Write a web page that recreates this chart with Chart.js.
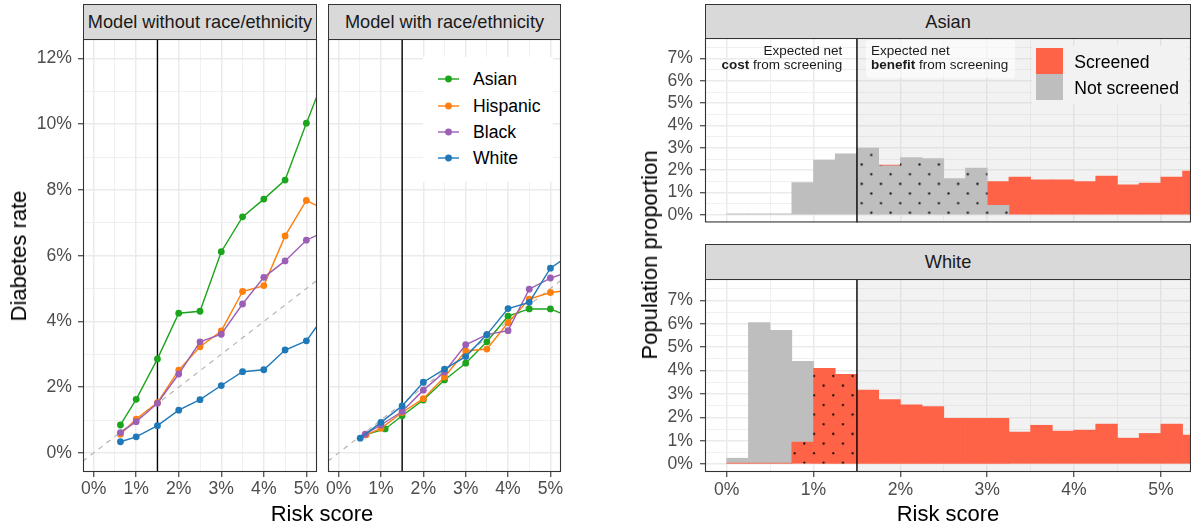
<!DOCTYPE html>
<html>
<head>
<meta charset="utf-8">
<title>Diabetes rate and population proportion by risk score</title>
<script src="https://cdn.jsdelivr.net/npm/chart.js@4.4.1/dist/chart.umd.min.js"></script>
<style>
  html, body { margin:0; padding:0; background:#fff; }
  body { position:relative; width:1191px; height:529px; overflow:hidden; font-family:"Liberation Sans", Arial, Helvetica, sans-serif; }
  canvas { position:absolute; }
  .strip { position:absolute; box-sizing:border-box; background:#d9d9d9; border:1px solid #333; color:#1a1a1a; font-size:18.2px; line-height:20px; display:flex; align-items:center; justify-content:center; white-space:nowrap; }
  .axtitle { position:absolute; font-size:22px; line-height:22px; color:#000; white-space:nowrap; }
  .note { position:absolute; font-size:13.5px; line-height:14.3px; color:#1a1a1a; white-space:nowrap; }
  .legtxt { position:absolute; font-size:17.6px; line-height:20px; color:#000; white-space:nowrap; }
</style>
</head>
<body>
<canvas id="c1" width="322" height="529" style="left:0;top:0"></canvas>
<canvas id="c2" width="244" height="529" style="left:322px;top:0"></canvas>
<canvas id="c3" width="551" height="240" style="left:640px;top:0"></canvas>
<canvas id="c4" width="551" height="289" style="left:640px;top:240px"></canvas>

<div class="strip" style="left:83px;top:4px;width:234px;height:36px">Model without race/ethnicity</div>
<div class="strip" style="left:328px;top:4px;width:233px;height:36px">Model with race/ethnicity</div>
<div class="strip" style="left:705px;top:4px;width:486px;height:35px">Asian</div>
<div class="strip" style="left:705px;top:244px;width:486px;height:36px">White</div>

<div class="axtitle" style="left:322px;top:503px;transform:translateX(-50%)">Risk score</div>
<div class="axtitle" style="left:948px;top:503px;transform:translateX(-50%)">Risk score</div>
<div class="axtitle" style="left:18.6px;top:255.5px;transform:translate(-50%,-50%) rotate(-90deg)">Diabetes rate</div>
<div class="axtitle" style="left:650px;top:255px;transform:translate(-50%,-50%) rotate(-90deg)">Population proportion</div>

<div class="note" style="left:842.3px;top:43.5px;transform:translateX(-100%);text-align:right">Expected net<br><b>cost</b> from screening</div>
<div style="position:absolute;left:866px;top:40px;width:149px;height:38px;background:rgba(255,255,255,0.6);border-radius:3px"></div>
<div class="note" style="left:871px;top:43.5px">Expected net<br><b>benefit</b> from screening</div>

<div id="leg1" style="position:absolute;left:423px;top:57px;width:130px;height:125px;background:#fff"></div>
<div id="leg2" style="position:absolute;left:1032px;top:46px;width:156px;height:58px;background:#f2f2f2"></div>

<script>
// ================= DATA =================
const threshold = 1.5;                       // risk score screening threshold (%)
const seriesNames  = ['Asian', 'Hispanic', 'Black', 'White'];
const seriesColors = ['#1ca51c', '#ff7f0e', '#9b5fb5', '#1f78b8'];

// Panel: Model without race/ethnicity  (x = risk score %, y = diabetes rate %)
const noRaceRisk     = [0.63, 1.0, 1.5, 2.0, 2.5, 3.0, 3.5, 4.0, 4.5, 5.0, 5.5];
const noRaceAsian    = [0.85, 1.63, 2.86, 4.25, 4.31, 6.12, 7.18, 7.72, 8.30, 10.03, 11.67];
const noRaceHispanic = [0.57, 1.03, 1.53, 2.52, 3.23, 3.71, 4.91, 5.09, 6.60, 7.68, 7.36];
const noRaceBlack    = [0.62, 0.95, 1.51, 2.40, 3.38, 3.61, 4.53, 5.34, 5.84, 6.47, 6.77];
const noRaceWhite    = [0.34, 0.49, 0.83, 1.30, 1.62, 2.05, 2.47, 2.53, 3.13, 3.41, 4.31];

// Panel: Model with race/ethnicity
const withRaceRiskAsian    = [0.63, 1.1, 1.5, 2.0, 2.5, 3.0, 3.5, 4.0, 4.5, 5.0, 5.5];
const withRaceAsian        = [0.55, 0.73, 1.13, 1.61, 2.22, 2.73, 3.38, 4.16, 4.38, 4.38, 4.12];
const withRaceRiskHispanic = [0.65, 1.0, 1.5, 2.0, 2.5, 3.0, 3.5, 4.0, 4.5, 5.0, 5.5];
const withRaceHispanic     = [0.55, 0.75, 1.23, 1.65, 2.31, 3.10, 3.16, 3.96, 4.68, 4.88, 4.96];
const withRaceRiskBlack    = [0.63, 1.0, 1.5, 2.0, 2.5, 3.0, 3.5, 4.0, 4.5, 5.0, 5.5];
const withRaceBlack        = [0.57, 0.85, 1.26, 1.91, 2.46, 3.29, 3.60, 3.72, 4.98, 5.32, 5.54];
const withRaceRiskWhite    = [0.51, 1.0, 1.5, 2.0, 2.5, 3.0, 3.5, 4.0, 4.5, 5.0, 5.5];
const withRaceWhite        = [0.45, 0.93, 1.43, 2.15, 2.55, 2.93, 3.60, 4.39, 4.58, 5.62, 6.06];

// Perfect-calibration reference (diabetes rate = risk score)
const calibrationLine = [-1, 7];

// Histograms: risk score bins (centers, width 0.25%) and population proportion (%)
const binCenters = [0.125, 0.375, 0.625, 0.875, 1.125, 1.375, 1.625, 1.875, 2.125, 2.375, 2.625,
                    2.875, 3.125, 3.375, 3.625, 3.875, 4.125, 4.375, 4.625, 4.875, 5.125, 5.375];
const asianScreened    = [0, 0, 0, 0, 0, 0, 0, 0.04, 0, 0, 0, 0, 1.06, 1.69, 1.57, 1.57, 1.49, 1.74, 1.34, 1.42, 1.69, 1.96];
const asianNotScreened = [0.04, 0.04, 0.04, 1.45, 2.45, 2.73, 2.99, 2.19, 2.56, 2.52, 1.62, 2.09, 0.43, 0, 0, 0, 0, 0, 0, 0, 0, 0];
const whiteScreened    = [0.04, 0.04, 0.04, 0.94, 4.10, 3.84, 3.17, 2.76, 2.53, 2.46, 1.96, 1.96, 1.96, 1.37, 1.66, 1.41, 1.45, 1.71, 1.11, 1.31, 1.71, 1.24];
const whiteNotScreened = [0.21, 6.02, 5.68, 3.46, 0, 0, 0, 0, 0, 0, 0, 0, 0, 0, 0, 0, 0, 0, 0, 0, 0, 0];
const histLegendLabels = ['Screened', 'Not screened'];
const SCREENED_COLOR = '#ff6347', NOT_SCREENED_COLOR = '#bebebe';

// Tick values and labels
const rateTicksMajor = [0, 2, 4, 6, 8, 10, 12];
const rateTickLabels = ['0%', '2%', '4%', '6%', '8%', '10%', '12%'];
const rateTicksMinor = [1, 3, 5, 7, 9, 11];
const riskTicksMajor = [0, 1, 2, 3, 4, 5];
const riskTickLabels = ['0%', '1%', '2%', '3%', '4%', '5%'];
const riskTicksMinor = [0.5, 1.5, 2.5, 3.5, 4.5];
const propTicksMajor = [0, 1, 2, 3, 4, 5, 6, 7];
const propTickLabels = ['0%', '1%', '2%', '3%', '4%', '5%', '6%', '7%'];
const propTicksMinor = [0.5, 1.5, 2.5, 3.5, 4.5, 5.5, 6.5, 7.5];

// ================= HELPERS =================
const FONT = '"Liberation Sans", Arial, Helvetica, sans-serif';

function axis(o) {
  const all = o.major.concat(o.minor).sort((a, b) => a - b);
  const isMajor = c => c && c.tick && o.major.includes(c.tick.value);
  return {
    type: 'linear', min: o.min, max: o.max, position: o.position, offset: false,
    afterBuildTicks: s => { s.ticks = all.map(v => ({ value: v })); },
    afterFit: s => { if (o.position === 'left') s.width = o.size; else s.height = o.size; },
    border: { display: false },
    grid: {
      offset: false, color: '#ebebeb',
      lineWidth: c => isMajor(c) ? 1.5 : 0.75,
      drawTicks: o.drawTicks, tickLength: 5, tickWidth: 1.1,
      tickColor: c => isMajor(c) ? '#333333' : 'rgba(0,0,0,0)'
    },
    ticks: {
      display: o.showLabels, autoSkip: false, maxRotation: 0, minRotation: 0,
      padding: o.pad, color: '#4d4d4d', font: { family: FONT, size: 17.6 },
      callback: v => { const i = o.major.indexOf(v); return i >= 0 ? o.labels[i] : ''; }
    }
  };
}

function drawThreshold(chart) {
  const { ctx, chartArea: a, scales: { x } } = chart;
  const px = x.getPixelForValue(threshold);
  ctx.save();
  ctx.strokeStyle = '#000'; ctx.lineWidth = 1.4;
  ctx.beginPath(); ctx.moveTo(px, a.top); ctx.lineTo(px, a.bottom); ctx.stroke();
  ctx.restore();
}

const deco = {
  id: 'deco',
  beforeDatasetsDraw(chart, args, o) {
    const { ctx, chartArea: a, scales: { x } } = chart;
    if (o.shade) {
      const px = x.getPixelForValue(threshold);
      ctx.save();
      ctx.fillStyle = 'rgba(190,190,190,0.2)';
      ctx.fillRect(px, a.top, a.right - px, a.bottom - a.top);
      ctx.restore();
    }
    if (o.lineUnder) drawThreshold(chart);
  },
  afterDatasetsDraw(chart, args, o) {
    if (o.lineOver) drawThreshold(chart);
  },
  afterDraw(chart) {
    const { ctx, chartArea: a } = chart;
    ctx.save();
    ctx.strokeStyle = '#333'; ctx.lineWidth = 1.1;
    ctx.strokeRect(a.left + 0.5, a.top + 0.5, a.right - a.left - 1, a.bottom - a.top - 1);
    ctx.restore();
  }
};

function lineDataset(i, xs, ys) {
  const col = seriesColors[i];
  return {
    label: seriesNames[i], data: xs.map((x, k) => ({ x, y: ys[k] })),
    borderColor: col, backgroundColor: col, borderWidth: 1.4,
    pointRadius: 3.4, pointHoverRadius: 3.4, pointBorderWidth: 0, pointBackgroundColor: col,
    tension: 0, order: 3 - i
  };
}
function refDataset() {
  return {
    label: 'calibration', data: calibrationLine.map(v => ({ x: v, y: v })),
    borderColor: '#b0b0b0', borderWidth: 1.1, borderDash: [5, 5],
    pointRadius: 0, pointHoverRadius: 0, order: 10
  };
}

function lineChart(id, datasets, layoutPad, yWidth, yLabels) {
  return new Chart(document.getElementById(id), {
    type: 'line',
    data: { datasets: [refDataset()].concat(datasets) },
    options: {
      responsive: false, maintainAspectRatio: false, animation: false, devicePixelRatio: 1,
      layout: { padding: layoutPad },
      events: [],
      plugins: { legend: { display: false }, tooltip: { enabled: false }, deco: { lineUnder: true } },
      scales: {
        x: axis({ min: -0.25, max: 5.25, major: riskTicksMajor, minor: riskTicksMinor, labels: riskTickLabels,
                  position: 'bottom', size: 30, pad: 2, showLabels: true, drawTicks: true }),
        y: axis({ min: -0.58, max: 12.59, major: rateTicksMajor, minor: rateTicksMinor, labels: rateTickLabels,
                  position: 'left', size: yWidth, pad: 6, showLabels: yLabels, drawTicks: yLabels })
      }
    },
    plugins: [deco]
  });
}

// Model without race/ethnicity
lineChart('c1', [
  lineDataset(0, noRaceRisk, noRaceAsian),
  lineDataset(1, noRaceRisk, noRaceHispanic),
  lineDataset(2, noRaceRisk, noRaceBlack),
  lineDataset(3, noRaceRisk, noRaceWhite)
], { left: 0, top: 39, right: 5, bottom: 27 }, 83, true);

// Model with race/ethnicity
lineChart('c2', [
  lineDataset(0, withRaceRiskAsian, withRaceAsian),
  lineDataset(1, withRaceRiskHispanic, withRaceHispanic),
  lineDataset(2, withRaceRiskBlack, withRaceBlack),
  lineDataset(3, withRaceRiskWhite, withRaceWhite)
], { left: 6, top: 39, right: 5, bottom: 27 }, 0, false);

// Dotted fill patterns
function dotPattern(base, tx, ty) {
  const P = 19.3, N = 10, S = 193;
  const c = document.createElement('canvas'); c.width = S; c.height = S;
  const g = c.getContext('2d');
  g.fillStyle = base; g.fillRect(0, 0, S, S);
  g.fillStyle = '#000';
  for (let i = 0; i < N; i++) for (let j = 0; j < N; j++) for (const off of [P / 4, 3 * P / 4]) {
    g.beginPath(); g.arc(off + i * P, off + j * P, 1.15, 0, 2 * Math.PI); g.fill();
  }
  const pat = g.createPattern(c, 'repeat');
  pat.setTransform(new DOMMatrix().translate(tx - P / 4, ty - P / 4));
  return pat;
}

function histChart(id, screened, notScreened, layoutPad, xSize, xLabels, dotAnchor) {
  const redDots = dotPattern(SCREENED_COLOR, dotAnchor[0], dotAnchor[1]);
  const grayDots = dotPattern(NOT_SCREENED_COLOR, dotAnchor[0], dotAnchor[1]);
  // lower segment = the group whose screening decision disagrees with the threshold (dotted)
  const lower = binCenters.map((c, i) => c < threshold ? screened[i] : notScreened[i]);
  const upper = binCenters.map((c, i) => c < threshold ? notScreened[i] : screened[i]);
  const common = { barPercentage: 1, categoryPercentage: 1, borderWidth: 0, stack: 'pop' };
  const pts = arr => binCenters.map((x, i) => ({ x, y: arr[i] > 0 ? arr[i] : null }));
  return new Chart(document.getElementById(id), {
    type: 'bar',
    data: {
      datasets: [
        Object.assign({
          label: 'lower', data: pts(lower),
          backgroundColor: c => {
            const i = c.dataIndex; if (i === undefined) return NOT_SCREENED_COLOR;
            const below = binCenters[i] < threshold;
            if (lower[i] < 0.2) return below ? SCREENED_COLOR : NOT_SCREENED_COLOR;
            return below ? redDots : grayDots;
          }
        }, common),
        Object.assign({
          label: 'upper', data: pts(upper),
          backgroundColor: c => {
            const i = c.dataIndex; if (i === undefined) return SCREENED_COLOR;
            return binCenters[i] < threshold ? NOT_SCREENED_COLOR : SCREENED_COLOR;
          }
        }, common)
      ]
    },
    options: {
      responsive: false, maintainAspectRatio: false, animation: false, devicePixelRatio: 1,
      layout: { padding: layoutPad },
      events: [],
      plugins: { legend: { display: false }, tooltip: { enabled: false }, deco: { shade: true, lineOver: true } },
      scales: {
        x: Object.assign(axis({ min: -0.25, max: 5.347, major: riskTicksMajor, minor: riskTicksMinor, labels: riskTickLabels,
                  position: 'bottom', size: xSize, pad: 3, showLabels: xLabels, drawTicks: xLabels }), { stacked: true }),
        y: Object.assign(axis({ min: -0.34, max: 7.92, major: propTicksMajor, minor: propTicksMinor, labels: propTickLabels,
                  position: 'left', size: 65, pad: 7, showLabels: true, drawTicks: true }), { stacked: true })
      }
    },
    plugins: [deco]
  });
}

// Asian (top) and White (bottom) histograms; dot anchors in canvas coordinates
histChart('c3', asianScreened, asianNotScreened, { left: 0, top: 38, right: 0, bottom: 8 }, 0, false, [231.3, 174.2]);
histChart('c4', whiteScreened, whiteNotScreened, { left: 0, top: 39, right: 0, bottom: 27 }, 30, true, [174, 136]);

// ================= LEGENDS (HTML text) =================
(function () {
  const leg = document.getElementById('leg1');
  const rows = [22, 49, 74.7, 100.7];          // row centers relative to box top
  seriesNames.forEach((name, i) => {
    const svg = document.createElementNS('http://www.w3.org/2000/svg', 'svg');
    svg.setAttribute('width', '22'); svg.setAttribute('height', '10');
    svg.style.position = 'absolute'; svg.style.left = '15px'; svg.style.top = (rows[i] - 5) + 'px';
    svg.innerHTML = `<line x1="0" y1="5" x2="21" y2="5" stroke="${seriesColors[i]}" stroke-width="1.4"/>` +
                    `<circle cx="10.5" cy="5" r="3.4" fill="${seriesColors[i]}"/>`;
    leg.appendChild(svg);
    const t = document.createElement('div');
    t.className = 'legtxt'; t.textContent = name;
    t.style.left = '50px'; t.style.top = (rows[i] - 10) + 'px';
    leg.appendChild(t);
  });
  const leg2 = document.getElementById('leg2');
  const cols = [SCREENED_COLOR, NOT_SCREENED_COLOR];
  histLegendLabels.forEach((name, i) => {
    const sq = document.createElement('div');
    sq.style.cssText = `position:absolute;left:4px;top:${2.3 + i * 26}px;width:27px;height:26.2px;background:${cols[i]}`;
    leg2.appendChild(sq);
    const t = document.createElement('div');
    t.className = 'legtxt'; t.textContent = name;
    t.style.left = '42.3px'; t.style.top = (6 + i * 26) + 'px';
    leg2.appendChild(t);
  });
})();
</script>
</body>
</html>
